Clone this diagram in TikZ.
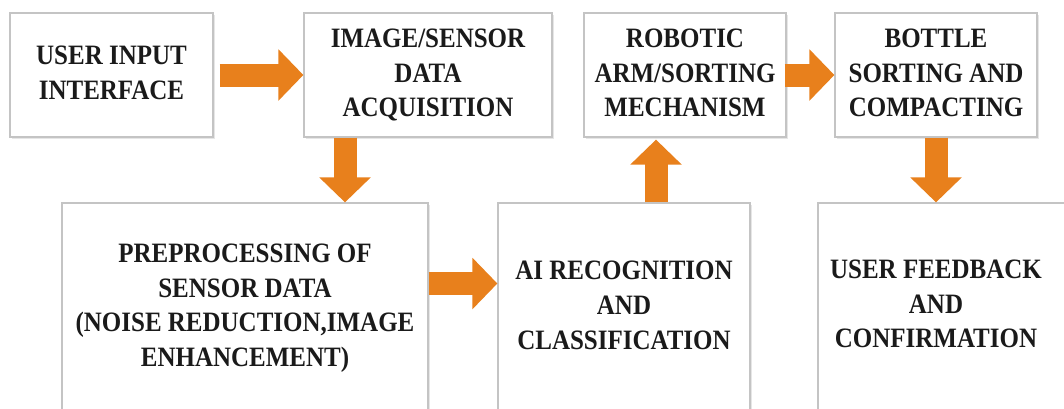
\documentclass[tikz,border=0pt]{standalone}
\usepackage{fontspec}
\setmainfont{Liberation Serif}
\usetikzlibrary{arrows.meta,shadows,calc}
\definecolor{flow}{HTML}{E8801C}
\definecolor{frame}{HTML}{C4C4C4}
\definecolor{ink}{HTML}{1A1A1A}
% slightly tall, centred multi-line caption for a stage box
\newcommand\stagetext[1]{\scalebox{0.98}[1.1]{\begin{tabular}{@{}c@{}}#1\end{tabular}}}
\begin{document}
\begin{tikzpicture}[x=1pt,y=-1pt,
  stage/.style={draw=frame, line width=1.2pt, fill=white, align=center,
    text=ink, inner sep=0pt,
    font=\bfseries\fontsize{25.5}{31.8}\selectfont,
    drop shadow={shadow xshift=1.6pt, shadow yshift=-1.6pt, opacity=0.22, fill=black!45}},
  toprow/.style={stage, minimum height=124pt},
  botrow/.style={stage, minimum height=209pt},
  label/.style={align=center, text=ink, inner sep=0pt,
    font=\bfseries\fontsize{25.5}{31.8}\selectfont},
  flowarrow/.style={draw=flow, line width=23pt,
    -{Triangle[width=50pt,length=25pt,fill=flow]}},
]
\useasboundingbox (0,0) rectangle (1064,408);
\clip (0,0) rectangle (1064,408);

% upper row of stages
\node[toprow, minimum width=203pt] (user)   at (111.5,75) {\stagetext{USER INPUT\\INTERFACE}};
\node[toprow, minimum width=248pt] (acq)    at (428,75)   {\stagetext{IMAGE/SENSOR\\DATA\\ACQUISITION}};
\node[toprow, minimum width=202pt] (robot)  at (685,75)   {\stagetext{ROBOTIC\\ARM/SORTING\\MECHANISM}};
\node[toprow, minimum width=202pt] (bottle) at (936,75)   {\stagetext{BOTTLE\\SORTING AND\\COMPACTING}};

% lower row of stages
\node[botrow, minimum width=366pt] (pre) at (245,307.5)
  {\stagetext{PREPROCESSING OF\\SENSOR DATA\\(NOISE REDUCTION,IMAGE\\ENHANCEMENT)}};
\node[botrow, minimum width=252pt] (ai)  at (624,307.5)
  {\stagetext{AI RECOGNITION\\AND\\CLASSIFICATION}};
\node[botrow, minimum width=252pt] (fbbox) at (944,307.5) {};
\node[label] (fb) at (936,306) {\stagetext{USER FEEDBACK\\AND\\CONFIRMATION}};

% block arrows between stages
\coordinate (a1) at ([xshift=6pt]user.east);
\draw[flowarrow] (a1) -- (acq.west);

\coordinate (d1) at ([xshift=-83pt]acq.south);
\draw[flowarrow] (d1) -- (d1 |- pre.north);

\coordinate (r1) at ([yshift=24pt]pre.east);
\draw[flowarrow] (r1) -- (r1 -| ai.west);

\coordinate (u1) at ([xshift=32pt]ai.north);
\draw[flowarrow] (u1) -- ([yshift=-2pt]u1 |- robot.south);

\coordinate (a2) at ([xshift=-2pt]robot.east);
\draw[flowarrow] (a2) -- (bottle.west);

\draw[flowarrow] (bottle.south) -- (bottle.south |- fbbox.north);
\end{tikzpicture}
\end{document}
